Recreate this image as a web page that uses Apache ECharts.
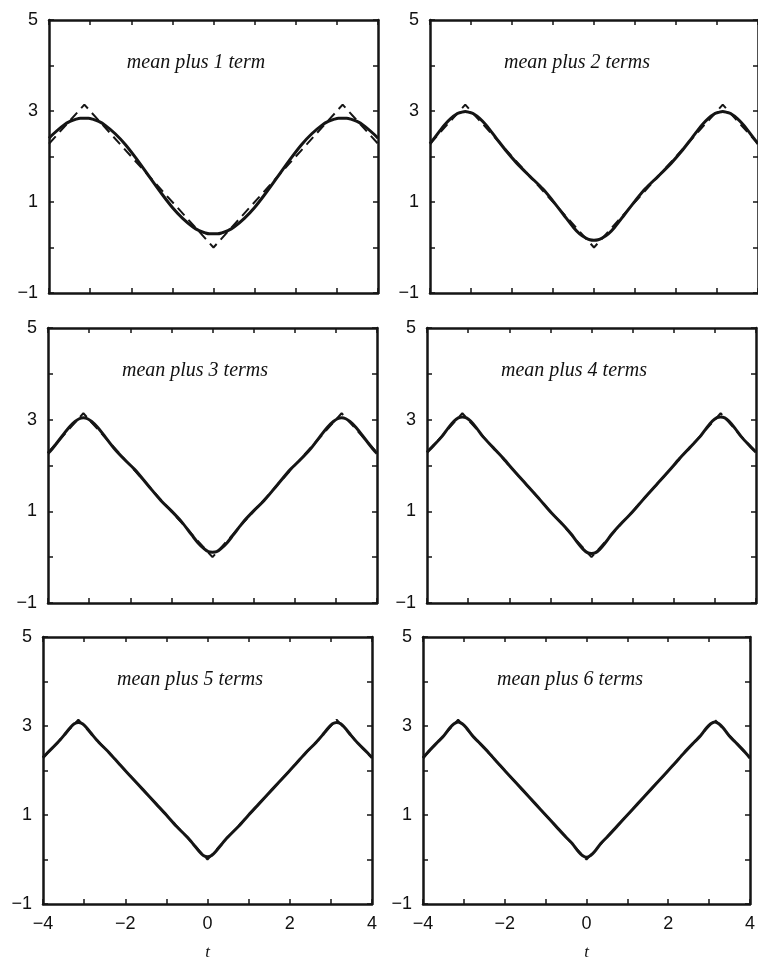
<!DOCTYPE html>
<html>
<head>
<meta charset="utf-8">
<script src="https://cdn.jsdelivr.net/npm/echarts@6/dist/echarts.min.js"></script>
<style>html,body{margin:0;padding:0;background:#fff;}#chart{width:758px;height:962px;}</style>
</head>
<body>
<div id="chart"></div>
<script>
// ---- data ----
const TITLES = ['mean plus 1 term','mean plus 2 terms','mean plus 3 terms','mean plus 4 terms','mean plus 5 terms','mean plus 6 terms'];
const X_TICKS = [-4, -2, 0, 2, 4];
const Y_TICKS = [-1, 1, 3, 5];
const T = [-4, -3.89, -3.64, -3.49, -3.34, -3.24, -3.14, -3.04, -2.94, -2.79, -2.64, -2.39, -2.14, -1.89, -1.57, -1.25, -1, -0.75, -0.5, -0.35, -0.2, -0.1, 0, 0.1, 0.2, 0.35, 0.5, 0.75, 1, 1.25, 1.57, 1.89, 2.14, 2.39, 2.64, 2.79, 2.94, 3.04, 3.14, 3.24, 3.34, 3.49, 3.64, 3.89, 4];
const N1 = [2.40, 2.50, 2.69, 2.77, 2.82, 2.84, 2.84, 2.84, 2.82, 2.77, 2.69, 2.50, 2.26, 1.97, 1.57, 1.17, 0.88, 0.64, 0.45, 0.37, 0.32, 0.30, 0.30, 0.30, 0.32, 0.37, 0.45, 0.64, 0.88, 1.17, 1.57, 1.97, 2.26, 2.50, 2.69, 2.77, 2.82, 2.84, 2.84, 2.84, 2.82, 2.77, 2.69, 2.50, 2.40];
const N2 = [2.28, 2.41, 2.70, 2.84, 2.94, 2.97, 2.99, 2.97, 2.94, 2.84, 2.70, 2.41, 2.12, 1.86, 1.57, 1.29, 1.02, 0.73, 0.44, 0.30, 0.21, 0.17, 0.16, 0.17, 0.21, 0.30, 0.44, 0.73, 1.02, 1.29, 1.57, 1.86, 2.12, 2.41, 2.70, 2.84, 2.94, 2.97, 2.99, 2.97, 2.94, 2.84, 2.70, 2.41, 2.28];
const N3 = [2.26, 2.37, 2.66, 2.83, 2.96, 3.02, 3.04, 3.02, 2.96, 2.83, 2.66, 2.37, 2.13, 1.91, 1.57, 1.23, 1.01, 0.77, 0.48, 0.31, 0.18, 0.12, 0.11, 0.12, 0.18, 0.31, 0.48, 0.77, 1.01, 1.23, 1.57, 1.91, 2.13, 2.37, 2.66, 2.83, 2.96, 3.02, 3.04, 3.02, 2.96, 2.83, 2.66, 2.37, 2.26];
const N4 = [2.29, 2.39, 2.63, 2.81, 2.97, 3.04, 3.06, 3.04, 2.97, 2.81, 2.63, 2.39, 2.15, 1.89, 1.57, 1.25, 0.99, 0.76, 0.51, 0.33, 0.17, 0.10, 0.08, 0.10, 0.17, 0.33, 0.51, 0.76, 0.99, 1.25, 1.57, 1.89, 2.15, 2.39, 2.63, 2.81, 2.97, 3.04, 3.06, 3.04, 2.97, 2.81, 2.63, 2.39, 2.29];
const N5 = [2.29, 2.40, 2.63, 2.79, 2.96, 3.05, 3.08, 3.05, 2.96, 2.79, 2.63, 2.40, 2.14, 1.89, 1.57, 1.25, 1.00, 0.74, 0.51, 0.35, 0.18, 0.09, 0.06, 0.09, 0.18, 0.35, 0.51, 0.74, 1.00, 1.25, 1.57, 1.89, 2.14, 2.40, 2.63, 2.79, 2.96, 3.05, 3.08, 3.05, 2.96, 2.79, 2.63, 2.40, 2.29];
const N6 = [2.28, 2.40, 2.64, 2.78, 2.96, 3.05, 3.09, 3.05, 2.96, 2.78, 2.64, 2.40, 2.14, 1.89, 1.57, 1.25, 1.00, 0.75, 0.50, 0.36, 0.18, 0.09, 0.05, 0.09, 0.18, 0.36, 0.50, 0.75, 1.00, 1.25, 1.57, 1.89, 2.14, 2.40, 2.64, 2.78, 2.96, 3.05, 3.09, 3.05, 2.96, 2.78, 2.64, 2.40, 2.28];
const TRI_T = [-4, -3.14, 0, 3.14, 4];
const TRI_Y = [2.28, 3.14, 0, 3.14, 2.28];
const APPROX = [N1, N2, N3, N4, N5, N6];

// ---- layout ----
const ROWS = [{top: 20, h: 273}, {top: 328, h: 275}, {top: 637, h: 271}];
const LEFTS = [[49, 430], [48, 427], [43, 423]];
const W = 329;
const INK = '#151515';
const fmtMinus = v => String(v).replace('-', '\u2212');

const grids = [], xAxes = [], yAxes = [], series = [], graphics = [];
for (let i = 0; i < 6; i++) {
  const r = Math.floor(i / 2), c = i % 2;
  const left = LEFTS[r][c], top = ROWS[r].top, h = ROWS[r].h;
  grids.push({left: left, top: top, width: W, height: h, show: false, containLabel: false});
  const bottomRow = r === 2;
  const axLine = {show: true, onZero: false, lineStyle: {color: INK, width: 2.5}};
  const tick = {show: true, inside: true, length: 5, lineStyle: {color: INK, width: 1.5}};
  xAxes.push({
    type: 'value', gridIndex: i, position: 'bottom', min: -4, max: 4, interval: 1,
    axisLine: axLine, axisTick: tick, splitLine: {show: false},
    axisLabel: {show: bottomRow, margin: 11, color: '#111', fontFamily: 'Liberation Sans, Arial', fontSize: 18,
      formatter: v => X_TICKS.indexOf(v) >= 0 ? fmtMinus(v) : ''},
    name: bottomRow ? 't' : '', nameLocation: 'middle', nameGap: 40,
    nameTextStyle: {fontFamily: 'Liberation Serif, Times New Roman', fontStyle: 'italic', fontSize: 17, color: '#111'}
  });
  xAxes.push({
    type: 'value', gridIndex: i, position: 'top', min: -4, max: 4, interval: 1,
    axisLine: axLine, axisTick: tick, splitLine: {show: false}, axisLabel: {show: false}
  });
  yAxes.push({
    type: 'value', gridIndex: i, position: 'left', min: -1, max: 5, interval: 1,
    axisLine: axLine, axisTick: tick, splitLine: {show: false},
    axisLabel: {show: true, margin: 11, color: '#111', fontFamily: 'Liberation Sans, Arial', fontSize: 18,
      formatter: v => Y_TICKS.indexOf(v) >= 0 ? fmtMinus(v) : ''}
  });
  yAxes.push({
    type: 'value', gridIndex: i, position: 'right', min: -1, max: 5, interval: 1,
    axisLine: axLine, axisTick: tick, splitLine: {show: false}, axisLabel: {show: false}
  });
  series.push({
    type: 'line', xAxisIndex: 2 * i, yAxisIndex: 2 * i, showSymbol: false, silent: true,
    data: TRI_T.map((t, k) => [t, TRI_Y[k]]),
    lineStyle: {color: INK, width: 2, type: [10, 6]}
  });
  series.push({
    type: 'line', xAxisIndex: 2 * i, yAxisIndex: 2 * i, showSymbol: false, silent: true, smooth: 0.3,
    data: T.map((t, k) => [t, APPROX[i][k]]),
    lineStyle: {color: INK, width: 3}
  });
  graphics.push({
    type: 'text', x: left + 147, y: top + 43, silent: true,
    style: {text: TITLES[i], fill: '#111', font: 'italic 20px "Liberation Serif", "Times New Roman", serif',
      align: 'center', verticalAlign: 'middle', textAlign: 'center', textVerticalAlign: 'middle'}
  });
}

const chart = echarts.init(document.getElementById('chart'), null, {renderer: 'canvas'});
chart.setOption({
  animation: false,
  backgroundColor: '#fff',
  grid: grids, xAxis: xAxes, yAxis: yAxes, series: series, graphic: graphics
});
</script>
</body>
</html>
